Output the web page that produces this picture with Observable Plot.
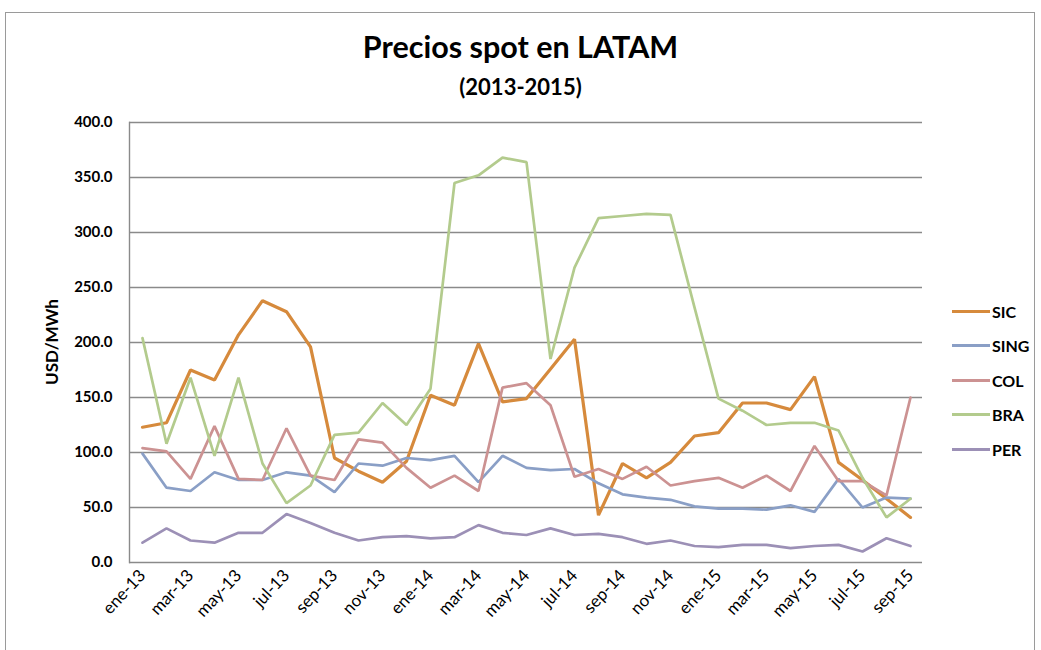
<!DOCTYPE html>
<html>
<head>
<meta charset="utf-8">
<script src="https://cdn.jsdelivr.net/npm/d3@7"></script>
<script src="https://cdn.jsdelivr.net/npm/@observablehq/plot@0.6"></script>
<style>
  html, body { margin:0; padding:0; background:#fff; }
  #wrap { position:relative; width:1041px; height:650px; overflow:hidden; font-family: Lato, "Open Sans", sans-serif; }
  #border { position:absolute; left:5px; top:12px; width:1030px; height:660px; border:1px solid #9a9a9a; box-sizing:border-box; }
  #title { position:absolute; left:0; width:1041px; top:28px; text-align:center; font-size:30.5px; font-weight:bold; color:#000; line-height:1.2; }
  #subtitle { position:absolute; left:0; width:1041px; top:74px; text-align:center; font-size:22px; font-weight:bold; color:#000; line-height:1.2; }
  #ylabel { position:absolute; left:51px; top:342px; transform: translate(-50%,-50%) rotate(-90deg); font-size:17px; font-weight:bold; white-space:nowrap; }
  #chart { position:absolute; left:0; top:0; }
  #legend { position:absolute; left:952px; top:294px; font-size:16px; font-weight:bold; }
  .item { display:flex; align-items:center; height:34.5px; }
  .sw { width:38px; height:3px; margin-right:2px; }
</style>
</head>
<body>
<div id="wrap">
  <div id="border"></div>
  <div id="chart"></div>
  <div id="title">Precios spot en LATAM</div>
  <div id="subtitle">(2013-2015)</div>
  <div id="ylabel">USD/MWh</div>
  <div id="legend"></div>
</div>
<script>
const months = [
  "ene-13","feb-13","mar-13","abr-13","may-13","jun-13","jul-13","ago-13","sep-13","oct-13","nov-13","dic-13",
  "ene-14","feb-14","mar-14","abr-14","may-14","jun-14","jul-14","ago-14","sep-14","oct-14","nov-14","dic-14",
  "ene-15","feb-15","mar-15","abr-15","may-15","jun-15","jul-15","ago-15","sep-15"
];
const tickLabels = ["ene-13","mar-13","may-13","jul-13","sep-13","nov-13","ene-14","mar-14","may-14","jul-14","sep-14","nov-14","ene-15","mar-15","may-15","jul-15","sep-15"];
const yTicks = [0,50,100,150,200,250,300,350,400];

const seriesNames = ["SIC","SING","COL","BRA","PER"];
const seriesColors = ["#d68a3c","#8a9fc6","#cc9292","#b3cb8d","#9c90b6"];

const SIC  = [123,127,175,166,207,238,228,196,95,83,73,92, 152,143,199,146,149,176,203,43,90,77,91,115, 118,145,145,139,169,91,75,58,41];
const SING = [99,68,65,82,75,75,82,79,64,90,88,95, 93,97,73,97,86,84,85,72,62,59,57,51, 49,49,48,52,46,76,50,59,58];
const COL  = [104,101,76,124,76,75,122,79,75,112,109,86, 68,79,65,159,163,143,78,85,76,87,70,74, 77,68,79,65,106,74,74,61,150];
const BRA  = [204,108,168,97,168,90,54,70,116,118,145,125, 158,345,352,368,364,185,268,313,315,317,316,232, 149,138,125,127,127,120,77,41,58];
const PER  = [18,31,20,18,27,27,44,36,27,20,23,24, 22,23,34,27,25,31,25,26,23,17,20,15, 14,16,16,13,15,16,10,22,15];

const seriesValues = {SIC, SING, COL, BRA, PER};
const data = [];
for (const s of seriesNames) {
  seriesValues[s].forEach((v, i) => data.push({series: s, month: months[i], value: v}));
}

const chart = Plot.plot({
  width: 1041,
  height: 650,
  marginTop: 122,
  marginLeft: 129,
  marginRight: 119,
  marginBottom: 88,
  style: {fontFamily: "Lato, 'Open Sans', sans-serif", background: "transparent"},
  x: {type: "point", domain: months, padding: 0.5, label: null},
  y: {domain: [0, 400], label: null},
  color: {domain: seriesNames, range: seriesColors},
  marks: [
    Plot.gridY(yTicks, {stroke: "#8a8a8a", strokeOpacity: 1, strokeWidth: 1.4}),
    Plot.frame({anchor: "left", stroke: "#8a8a8a", strokeWidth: 1.4}),
    Plot.axisY(yTicks, {tickSize: 0, tickPadding: 17, tickFormat: d => d.toFixed(1), fontSize: 15, fontWeight: "bold", fill: "#000", label: null}),
    Plot.axisX(tickLabels, {tickSize: 0, tickRotate: -47, tickPadding: 10, fontSize: 17, fill: "#000", label: null}),
    Plot.line(data, {x: "month", y: "value", z: "series", stroke: "series", strokeWidth: d => d.series === "SIC" ? 3.2 : 2.7, strokeLinejoin: "miter"})
  ]
});
document.getElementById("chart").appendChild(chart);

const legend = document.getElementById("legend");
seriesNames.forEach((s, i) => {
  const item = document.createElement("div");
  item.className = "item";
  const sw = document.createElement("span");
  sw.className = "sw";
  sw.style.background = seriesColors[i];
  const t = document.createElement("span");
  t.textContent = s;
  item.appendChild(sw);
  item.appendChild(t);
  legend.appendChild(item);
});
</script>
</body>
</html>
